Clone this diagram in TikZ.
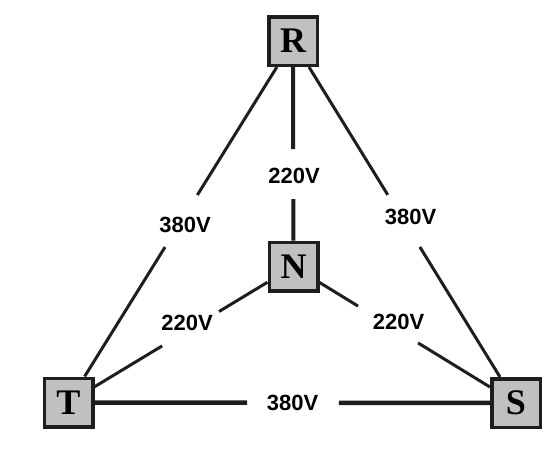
\documentclass[tikz,border=0pt]{standalone}
\usepackage{fontspec}
\setmainfont{Liberation Serif}
\newfontfamily\labfont{Liberation Sans}
\usetikzlibrary{calc}
\definecolor{linecol}{HTML}{1E1E1E}
\definecolor{boxgray}{HTML}{C0C0C0}
\begin{document}
\begin{tikzpicture}[x=1pt,y=-1pt,
  phase/.style={draw=linecol,fill=boxgray,line width=3.5pt,minimum size=48.5pt,inner sep=0pt,font=\fontsize{36}{36}\selectfont\bfseries},
  wire/.style={draw=linecol,line width=3pt},
  volt/.style={inner sep=0pt,font=\labfont\fontsize{22}{22}\selectfont\bfseries}]
\useasboundingbox (0,0) rectangle (553,451);
% phase nodes
\node[phase] (R) at (293,41) {R};
\node[phase] (N) at (293.5,266.5) {N};
\node[phase] (T) at (68.5,402.5) {T};
\node[phase] (S) at (516,403) {S};
% gap ends
\coordinate (rt1) at ($(R)!0.426!(T)$);
\coordinate (rt2) at ($(R)!0.570!(T)$);
\coordinate (rn1) at ($(R)!0.479!(N)$);
\coordinate (rn2) at ($(R)!0.701!(N)$);
\coordinate (rs1) at ($(R)!0.425!(S)$);
\coordinate (rs2) at ($(R)!0.569!(S)$);
\coordinate (nt1) at ($(N)!0.331!(T)$);
\coordinate (nt2) at ($(N)!0.584!(T)$);
\coordinate (ns1) at ($(N)!0.290!(S)$);
\coordinate (ns2) at ($(N)!0.560!(S)$);
\coordinate (ts1) at ($(T)!0.399!(S)$);
\coordinate (ts2) at ($(T)!0.604!(S)$);
% connectors
\draw[wire] (R) -- (rt1); \draw[wire] (rt2) -- (T);
\draw[wire,line width=4pt] (R) -- (rn1); \draw[wire,line width=4pt] (rn2) -- (N);
\draw[wire] (R) -- (rs1); \draw[wire] (rs2) -- (S);
\draw[wire] (N) -- (nt1); \draw[wire] (nt2) -- (T);
\draw[wire] (N) -- (ns1); \draw[wire] (ns2) -- (S);
\draw[wire,line width=4.5pt] (T) -- (ts1); \draw[wire,line width=4.5pt] (ts2) -- (S);
% labels
\node[volt] (lrn) at (294,175.5) {220V};
\node[volt] (lrt) at (185,224.5) {380V};
\node[volt] (lrs) at (410.5,216.5) {380V};
\node[volt] (lnt) at (187,323) {220V};
\node[volt] (lns) at (398.5,321.5) {220V};
\node[volt] (lts) at (292.5,403) {380V};
\end{tikzpicture}
\end{document}
